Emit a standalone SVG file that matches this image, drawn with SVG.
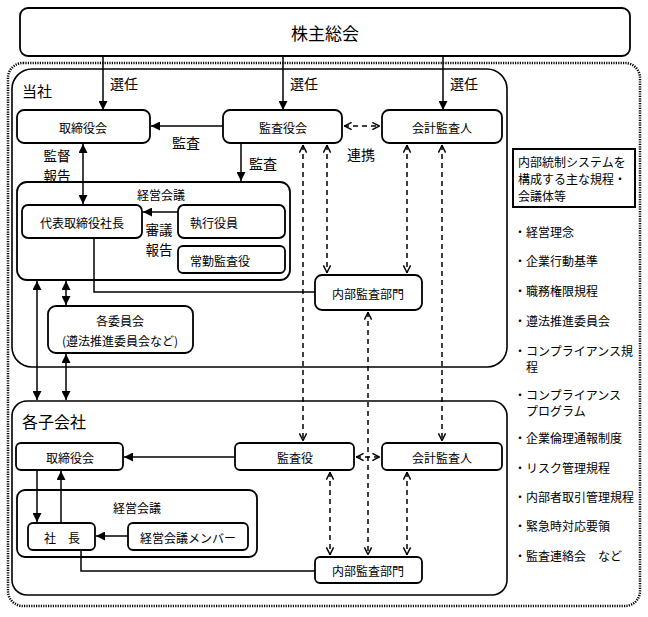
<svg xmlns="http://www.w3.org/2000/svg" width="648" height="617" viewBox="0 0 648 617">
<style>
text{font-family:"Noto Sans CJK JP","Noto Sans",sans-serif;fill:#000;dominant-baseline:central}
.n{fill:#fff;stroke:#000;stroke-width:1.8}
.t{font-size:12px;text-anchor:middle}
.l{font-size:14px;text-anchor:middle}
.m{font-size:13.5px;text-anchor:middle}
.r{font-size:12px}
.s{fill:none;stroke:#000;stroke-width:1.5}
.d{fill:none;stroke:#000;stroke-width:1.5;stroke-dasharray:5 4}
</style>
<defs>
<marker id="a" viewBox="0 0 10 10" refX="10" refY="5" markerWidth="9" markerHeight="9" markerUnits="userSpaceOnUse" orient="auto-start-reverse"><path d="M0,0 L10,5 L0,10 z" fill="#000"/></marker>
<marker id="o" viewBox="0 0 10 10" refX="9.5" refY="5" markerWidth="9" markerHeight="9" markerUnits="userSpaceOnUse" orient="auto-start-reverse"><path d="M1,1 L9,5 L1,9" fill="none" stroke="#000" stroke-width="1.6"/></marker>
</defs>
<rect width="648" height="617" fill="#fff"/>
<g id="group-outer">
<rect x="8" y="63" width="632" height="543" rx="15" fill="none" stroke="#000" stroke-width="2.5" stroke-dasharray="1.2 1.2"/>
</g>
<g id="kabunushi"><rect class="n" x="20" y="8" width="610" height="48" rx="8"/><text x="325" y="32" style="font-size:17px;text-anchor:middle">株主総会</text></g>
<g id="tousha"><rect x="12" y="69" width="495" height="298" rx="20" fill="none" stroke="#000" stroke-width="1.6"/><text x="22" y="90" style="font-size:15px">当社</text></g>
<g id="kogaisha"><rect x="12" y="401" width="495" height="194" rx="15" fill="none" stroke="#000" stroke-width="1.6"/><text x="22" y="421" style="font-size:16px">各子会社</text></g>
<g id="t-torishimari"><rect class="n" x="17" y="110" width="133" height="33" rx="7"/><text class="t" x="83" y="127">取締役会</text></g>
<g id="t-kansayakukai"><rect class="n" x="223" y="110" width="119" height="33" rx="7"/><text class="t" x="283" y="127">監査役会</text></g>
<g id="t-kaikei"><rect class="n" x="382" y="110" width="120" height="33" rx="7"/><text class="t" x="442" y="127">会計監査人</text></g>
<g id="t-keiei"><rect class="n" x="17" y="182" width="273" height="98" rx="10"/><text class="t" x="161" y="194">経営会議</text></g>
<g id="t-shacho"><rect class="n" x="22" y="205" width="120" height="33" rx="6"/><text class="t" x="82" y="222">代表取締役社長</text></g>
<g id="t-shikko"><rect class="n" x="178" y="205" width="107" height="33" rx="6"/><text class="r" x="190" y="222">執行役員</text></g>
<g id="t-jokin"><rect class="n" x="178" y="246" width="107" height="27" rx="5"/><text class="r" x="190" y="260">常勤監査役</text></g>
<g id="t-naibu"><rect class="n" x="315" y="275" width="107" height="35" rx="7"/><text class="t" x="368" y="293">内部監査部門</text></g>
<g id="t-iinkai"><rect class="n" x="48" y="306" width="145" height="47" rx="8"/><text class="t" x="120" y="320">各委員会</text><text class="t" x="120" y="340">(遵法推進委員会など)</text></g>
<g id="k-torishimari"><rect class="n" x="16" y="443" width="107" height="27" rx="5"/><text class="t" x="70" y="457">取締役会</text></g>
<g id="k-kansayaku"><rect class="n" x="235" y="443" width="119" height="27" rx="5"/><text class="t" x="295" y="457">監査役</text></g>
<g id="k-kaikei"><rect class="n" x="382" y="443" width="120" height="27" rx="5"/><text class="t" x="442" y="457">会計監査人</text></g>
<g id="k-keiei"><rect class="n" x="17" y="490" width="240" height="67" rx="8"/><text class="t" x="137" y="507">経営会議</text></g>
<g id="k-shacho"><rect class="n" x="28" y="523" width="67" height="27" rx="5"/><text class="t" x="62" y="537">社　長</text></g>
<g id="k-member"><rect class="n" x="128" y="523" width="120" height="27" rx="5"/><text class="t" x="188" y="537">経営会議メンバー</text></g>
<g id="k-naibu"><rect class="n" x="315" y="557" width="107" height="26" rx="5"/><text class="t" x="368" y="570">内部監査部門</text></g>
<g id="legend"><rect x="513" y="149" width="122" height="58" fill="#fff" stroke="#000" stroke-width="2"/>
<text class="r" x="518" y="161">内部統制システムを</text><text class="r" x="518" y="178">構成する主な規程・</text><text class="r" x="518" y="195">会議体等</text>
<text class="r" x="514" y="231">・経営理念</text>
<text class="r" x="514" y="260">・企業行動基準</text>
<text class="r" x="514" y="290">・職務権限規程</text>
<text class="r" x="514" y="320">・遵法推進委員会</text>
<text class="r" x="514" y="350">・コンプライアンス規</text><text class="r" x="526" y="366">程</text>
<text class="r" x="514" y="394">・コンプライアンス</text><text class="r" x="526" y="410">プログラム</text>
<text class="r" x="514" y="437">・企業倫理通報制度</text>
<text class="r" x="514" y="467">・リスク管理規程</text>
<text class="r" x="514" y="496">・内部者取引管理規程</text>
<text class="r" x="514" y="525">・緊急時対応要領</text>
<text class="r" x="514" y="555">・監査連絡会　など</text>
</g>
<g id="connectors">
<path class="s" d="M103,56 V110" marker-end="url(#a)"/>
<path class="s" d="M283,56 V110" marker-end="url(#a)"/>
<path class="s" d="M443,56 V110" marker-end="url(#a)"/>
<path class="s" d="M223,126 H151" marker-end="url(#a)"/>
<path class="s" d="M83,144 V204" marker-start="url(#a)" marker-end="url(#a)"/>
<path class="s" d="M241,143 V181" marker-end="url(#a)"/>
<path class="s" d="M178,212 H143" marker-end="url(#a)"/>
<path class="s" d="M94,238 V292 H315"/>
<path class="s" d="M37,281 V400" marker-start="url(#a)" marker-end="url(#a)"/>
<path class="s" d="M66,281 V305" marker-start="url(#a)" marker-end="url(#a)"/>
<path class="s" d="M66,354 V400" marker-start="url(#a)" marker-end="url(#a)"/>
<path class="s" d="M235,457 H124" marker-end="url(#a)"/>
<path class="s" d="M37,470 V522" marker-end="url(#a)"/>
<path class="s" d="M61,523 V471" marker-end="url(#a)"/>
<path class="s" d="M128,536 H96" marker-end="url(#a)"/>
<path class="s" d="M81,550 V571 H315"/>
<path class="d" d="M344,126 H380" marker-start="url(#o)" marker-end="url(#o)"/>
<path class="d" d="M303,145 V441" marker-start="url(#o)" marker-end="url(#o)"/>
<path class="d" d="M327,145 V273" marker-start="url(#o)" marker-end="url(#o)"/>
<path class="d" d="M407,145 V273" marker-start="url(#o)" marker-end="url(#o)"/>
<path class="d" d="M442,145 V441" marker-start="url(#o)" marker-end="url(#o)"/>
<path class="d" d="M368,312 V555" marker-start="url(#o)" marker-end="url(#o)"/>
<path class="d" d="M356,457 H380" marker-start="url(#o)" marker-end="url(#o)"/>
<path class="d" d="M330,472 V555" marker-start="url(#o)" marker-end="url(#o)"/>
<path class="d" d="M407,472 V555" marker-start="url(#o)" marker-end="url(#o)"/>
<text class="l" x="124" y="83">選任</text>
<text class="l" x="304" y="83">選任</text>
<text class="l" x="464" y="83">選任</text>
<text class="l" x="186" y="142">監査</text>
<text class="l" x="263" y="163">監査</text>
<text class="l" x="361" y="154">連携</text>
<text class="m" x="57" y="155">監督</text>
<text class="m" x="57" y="175">報告</text>
<text class="m" x="159" y="229">審議</text>
<text class="m" x="159" y="249">報告</text>
</g>
</svg>
